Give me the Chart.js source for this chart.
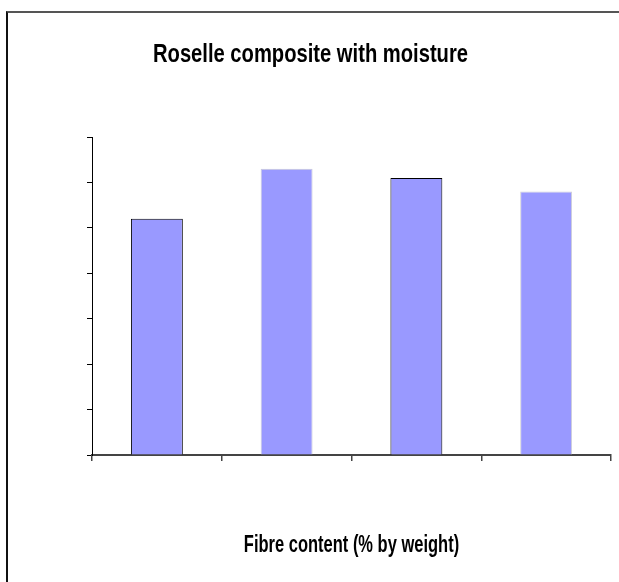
<!DOCTYPE html>
<html>
<head>
<meta charset="utf-8">
<script src="https://cdn.jsdelivr.net/npm/chart.js@4/dist/chart.umd.min.js"></script>
<style>
    html, body {
        margin: 0;
        padding: 0;
        background: #ffffff;
        overflow: hidden;
    }
    #frame {
        position: absolute;
        left: 6px;
        top: 11px;
        width: 800px;
        height: 800px;
        border-top: 2px solid #555555;
        border-left: 2px solid #111111;
    }
    #wrap {
        position: absolute;
        left: 0;
        top: 0;
        width: 619px;
        height: 582px;
    }
</style>
</head>
<body>
<div id="frame"></div>
<div id="wrap">
    <canvas id="chart" width="619" height="582"></canvas>
</div>
<script>
    // values (axis has no printed labels, 7 tick steps)
    const categories = ["1", "2", "3", "4"];
    const moistureValues = [5.2, 6.3, 6.1, 5.8];
    const barBorders = ["#000000", "#c8c8d8", "#000000", "#d0d0d8"];
    const yMin = 0;
    const yMax = 7;
    const yStep = 1;

    const chartTitle = "Roselle composite with moisture";
    const xTitle = "Fibre content (% by weight)";

    const fontFamily = '"Liberation Sans", Arial, sans-serif';

    // the original text is a squeezed narrow bold face, so draw it scaled sideways
    const condensedTitles = {
        id: "condensedTitles",
        afterDraw(chart) {
            const c = chart.ctx;
            const area = chart.chartArea;
            const drawSqueezed = (text, cx, baseline, size, sx) => {
                c.save();
                c.font = "bold " + size + "px " + fontFamily;
                c.fillStyle = "#000000";
                c.textAlign = "center";
                c.textBaseline = "alphabetic";
                c.translate(cx, baseline);
                c.scale(sx, 1);
                c.fillText(text, 0, 0);
                c.restore();
            };
            drawSqueezed(chartTitle, chart.width / 2 + 1, 61.5, 26, 0.776);
            drawSqueezed(xTitle, (area.left + area.right) / 2, 552, 24, 0.687);
        }
    };

    const ctx = document.getElementById("chart");
    new Chart(ctx, {
        type: "bar",
        data: {
            labels: categories,
            datasets: [{
                label: chartTitle,
                data: moistureValues,
                backgroundColor: "#9999ff",
                borderColor: barBorders,
                borderWidth: 1,
                categoryPercentage: 1.0,
                barPercentage: 0.4
            }]
        },
        options: {
            responsive: false,
            animation: false,
            layout: {
                padding: {left: 0, right: 8, top: 137, bottom: 0}
            },
            plugins: {
                legend: {display: false},
                tooltip: {enabled: false},
                title: {display: false}
            },
            scales: {
                x: {
                    offset: true,
                    grid: {
                        offset: true,
                        drawOnChartArea: false,
                        drawTicks: true,
                        tickLength: 6,
                        color: "#444444",
                        lineWidth: 1.5
                    },
                    border: {color: "#444444", width: 2},
                    ticks: {display: false},
                    afterFit: function (scale) {
                        scale.height = 127;
                    }
                },
                y: {
                    min: yMin,
                    max: yMax,
                    ticks: {display: false, stepSize: yStep},
                    grid: {
                        drawOnChartArea: false,
                        drawTicks: true,
                        tickLength: 5,
                        color: "#000000",
                        lineWidth: 1
                    },
                    border: {color: "#000000", width: 1},
                    afterFit: function (scale) {
                        scale.width = 92;
                    }
                }
            }
        },
        plugins: [condensedTitles]
    });
</script>
</body>
</html>
